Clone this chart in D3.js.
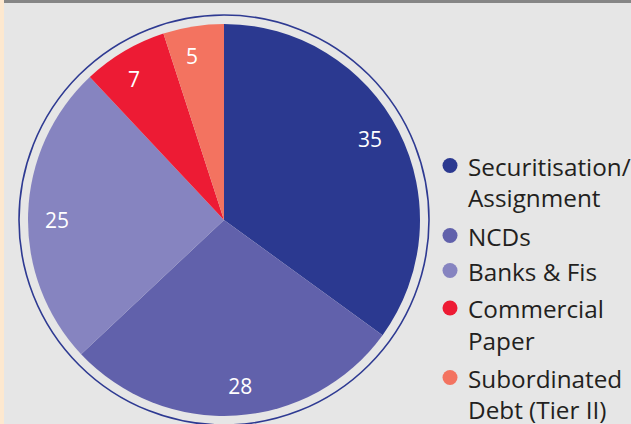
<!DOCTYPE html>
<html><head><meta charset="utf-8">
<script src="https://cdn.jsdelivr.net/npm/d3@7"></script>
<style>html,body{margin:0;padding:0;background:#e6e6e6;}svg{display:block;}</style>
</head><body>
<script>
const categories = ["Securitisation/\nAssignment", "NCDs", "Banks & Fis", "Commercial\nPaper", "Subordinated\nDebt (Tier II)"];
const values = [35, 28, 25, 7, 5];
const colors = ["#2b3990", "#6161ab", "#8684c0", "#ed1b34", "#f37360"];

const W = 631, H = 424;
const svg = d3.select("body").append("svg").attr("width", W).attr("height", H);
svg.append("rect").attr("width", W).attr("height", H).attr("fill", "#e6e6e6");
svg.append("rect").attr("x", 0).attr("y", 0).attr("width", 4).attr("height", H).attr("fill", "#fde8cf");
svg.append("rect").attr("x", 4).attr("y", 0).attr("width", W - 4).attr("height", 3).attr("fill", "#868686");

const cx = 224, cy = 220, r = 196;
const g = svg.append("g").attr("transform", `translate(${cx},${cy})`);
g.append("circle").attr("r", 205).attr("fill", "none").attr("stroke", "#2e3a92").attr("stroke-width", 1.6);

const pie = d3.pie().sort(null).value(d => d)(values);
const arc = d3.arc().innerRadius(0).outerRadius(r);
g.selectAll("path.s").data(pie).join("path").attr("class", "s")
  .attr("d", arc).attr("fill", (d, i) => colors[i]);

const labelR = 167, labelShift = -0.035;
g.selectAll("text.v").data(pie).join("text").attr("class", "v")
  .attr("transform", d => {
    const a = (d.startAngle + d.endAngle) / 2 + labelShift;
    return `translate(${labelR * Math.sin(a)},${-labelR * Math.cos(a)})`;
  })
  .attr("text-anchor", "middle").attr("dy", "0.36em")
  .attr("fill", "#ffffff").attr("font-family", "Open Sans").attr("font-size", 21)
  .text(d => d.data);

const legendY = [165.5, 235.5, 270.5, 308, 377.5];
const lg = svg.append("g");
categories.forEach((c, i) => {
  lg.append("circle").attr("cx", 450).attr("cy", legendY[i]).attr("r", 7.5).attr("fill", colors[i]);
  const t = lg.append("text").attr("x", 468).attr("y", legendY[i] + 10)
    .attr("font-family", "Open Sans").attr("font-size", 24.3).attr("fill", "#231f20");
  c.split("\n").forEach((line, j) => {
    t.append("tspan").attr("x", 468).attr("dy", j === 0 ? 0 : 31.5).text(line);
  });
});
</script>
</body></html>
